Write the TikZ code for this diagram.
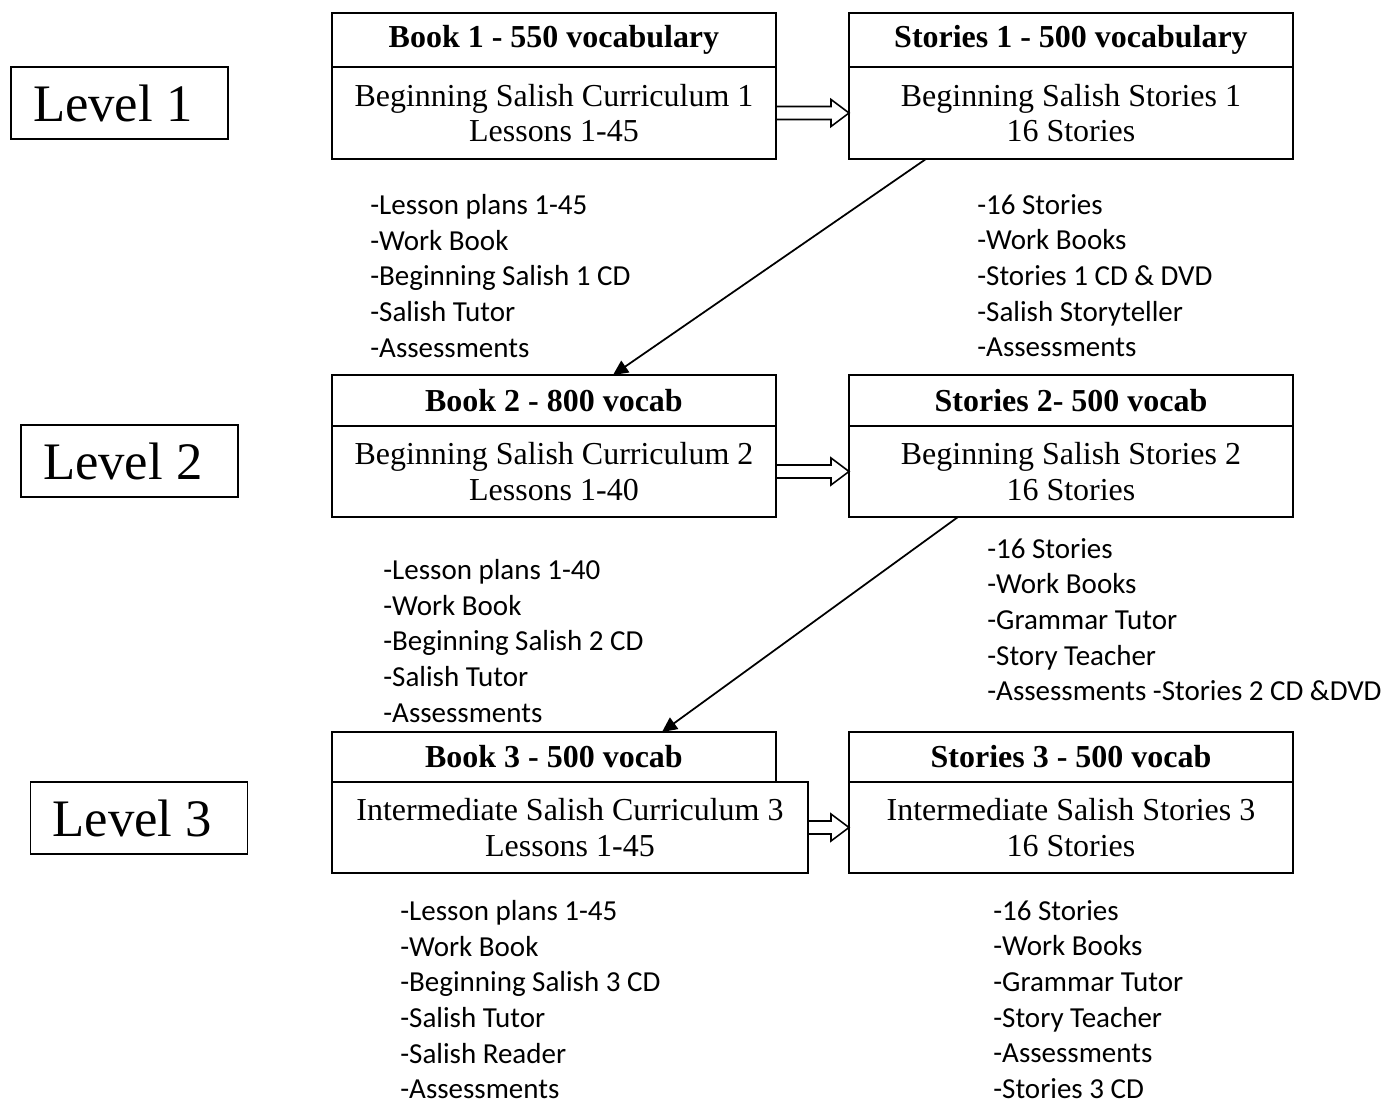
\documentclass[tikz,border=0pt]{standalone}
\usepackage{fontspec}
\setmainfont{Liberation Serif}
\newfontfamily\listfont{Carlito}
\usetikzlibrary{arrows.meta,calc}

\tikzset{
  head/.style={draw, line width=1.1pt, anchor=north west, minimum width=8.88cm,
    inner sep=0pt, outer sep=0pt, font=\bfseries\fontsize{18.2}{20}\selectfont},
  body/.style={draw, line width=1.1pt, anchor=north west, minimum width=8.88cm,
    align=center, inner sep=0pt, outer sep=0pt, font=\fontsize{18.2}{20}\selectfont},
  lvl/.style={draw, line width=1.1pt, text width=3.46cm, align=flush left, inner xsep=0.44cm,
    minimum height=1.44cm, inner ysep=0pt, font=\fontsize{30}{36}\selectfont},
  items/.style={anchor=north west, align=left, inner sep=0pt,
    font=\listfont\fontsize{16.5}{20.3}\selectfont},
  fat/.style={line width=0.9pt, line join=miter},
  link/.style={line width=1pt, -{Triangle[length=0.3cm,width=0.28cm]}}
}

% hollow block arrow between two boxes
\newcommand{\fatarrow}[2]{%
  \draw[fat] (#1.east) ++(0,-6.5) -- ($(#2.west)+(-18,-6.5)$) -- ++(0,-7) -- (#2.west)
    -- ++(-18,13.5) -- ++(0,-7) -- ($(#1.east)+(0,6.5)$);}

\begin{document}
\begin{tikzpicture}[x=0.02cm, y=-0.02cm]
    \useasboundingbox (0,0) rectangle (1389,1103);

    % level labels
    \node[lvl] (lv1) at (119.5,103) {Level 1};
    \node[lvl] (lv2) at (129.5,461) {Level 2};
    \node[lvl] (lv3) at (139,818) {Level 3};

    % level 1
    \node[head, minimum height=1.08cm] (b1h) at (332,13) {Book 1 - 550 vocabulary};
    \node[body, minimum height=1.84cm] (b1b) at (b1h.south west) {Beginning Salish Curriculum 1\\Lessons 1-45};
    \node[head, minimum height=1.08cm] (s1h) at (849,13) {Stories 1 - 500 vocabulary};
    \node[body, minimum height=1.84cm] (s1b) at (s1h.south west) {Beginning Salish Stories 1\\16 Stories};

    % level 2
    \node[head, minimum height=1.02cm] (b2h) at (332,375) {Book 2 - 800 vocab};
    \node[body, minimum height=1.82cm] (b2b) at (b2h.south west) {Beginning Salish Curriculum 2\\Lessons 1-40};
    \node[head, minimum height=1.02cm] (s2h) at (849,375) {Stories 2- 500 vocab};
    \node[body, minimum height=1.82cm] (s2b) at (s2h.south west) {Beginning Salish Stories 2\\16 Stories};

    % level 3
    \node[head, minimum height=1.0cm] (b3h) at (332,732) {Book 3 - 500 vocab};
    \node[body, minimum height=1.82cm, minimum width=9.52cm] (b3b) at (b3h.south west) {Intermediate Salish Curriculum 3\\Lessons 1-45};
    \node[head, minimum height=1.0cm] (s3h) at (849,732) {Stories 3 - 500 vocab};
    \node[body, minimum height=1.82cm] (s3b) at (s3h.south west) {Intermediate Salish Stories 3\\16 Stories};

    % materials
    \node[items] (m1l) at (370,194) {-Lesson plans 1-45\\-Work Book\\-Beginning Salish 1 CD\\-Salish Tutor\\-Assessments};
    \node[items] (m1r) at (977,194) {-16 Stories\\-Work Books\\-Stories 1 CD \& DVD\\-Salish Storyteller\\-Assessments};
    \node[items] (m2l) at (383,559) {-Lesson plans 1-40\\-Work Book\\-Beginning Salish 2 CD\\-Salish Tutor\\-Assessments};
    \node[items] (m2r) at (987,538) {-16 Stories\\-Work Books\\-Grammar Tutor\\-Story Teacher\\-Assessments -Stories 2 CD \&DVD};
    \node[items] (m3l) at (400,900) {-Lesson plans 1-45\\-Work Book\\-Beginning Salish 3 CD\\-Salish Tutor\\-Salish Reader\\-Assessments};
    \node[items] (m3r) at (993,900) {-16 Stories\\-Work Books\\-Grammar Tutor\\-Story Teacher\\-Assessments\\-Stories 3 CD};

    % arrows
    \fatarrow{b1b}{s1b}
    \fatarrow{b2b}{s2b}
    \fatarrow{b3b}{s3b}
    \draw[link] ($(s1b.south west)+(77,0)$) -- ($(b2h.north west)+(281,0)$);
    \draw[link] ($(s2b.south west)+(109,0)$) -- ($(b3h.north west)+(330,0)$);
\end{tikzpicture}
\end{document}
